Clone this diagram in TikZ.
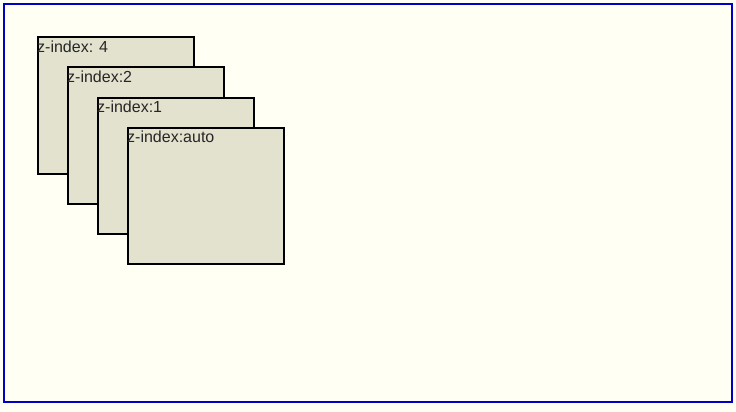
\documentclass[tikz,border=0pt]{standalone}
\usepackage{fontspec}
\setmainfont{Liberation Sans}
\usetikzlibrary{positioning}

\definecolor{pagebg}{RGB}{255,255,244}
\definecolor{layerfill}{RGB}{226,226,206}
\definecolor{frameblue}{RGB}{0,0,200}

\begin{document}
\begin{tikzpicture}[
  x=1pt, y=-1pt,
  layer/.style={draw=black, line width=2pt, fill=layerfill, anchor=north west, minimum width=156pt, minimum height=136pt, inner sep=0pt},
  tag/.style={anchor=north west, inner xsep=0.5pt, inner ysep=4.5pt, font=\fontsize{16}{18}\selectfont, text=black!85}
]

% page and its frame
\useasboundingbox (0,0) rectangle (736,412);
\fill[pagebg] (0,0) rectangle (736,412);
\draw[frameblue, line width=2pt] (4,4) rectangle (732,402);

% stacked layers, each drawn over the one before
\node[layer] (z4) at (36.5,36.5) {};
\node[tag] (t4) at (z4.north west) {z-index: 4};
\node[layer] (z2) at (66.5,66.5) {};
\node[tag] (t2) at (z2.north west) {z-index:2};
\node[layer] (z1) at (96.5,96.5) {};
\node[tag] (t1) at (z1.north west) {z-index:1};
\node[layer] (za) at (126.5,126.5) {};
\node[tag] (ta) at (za.north west) {z-index:auto};
\end{tikzpicture}
\end{document}
